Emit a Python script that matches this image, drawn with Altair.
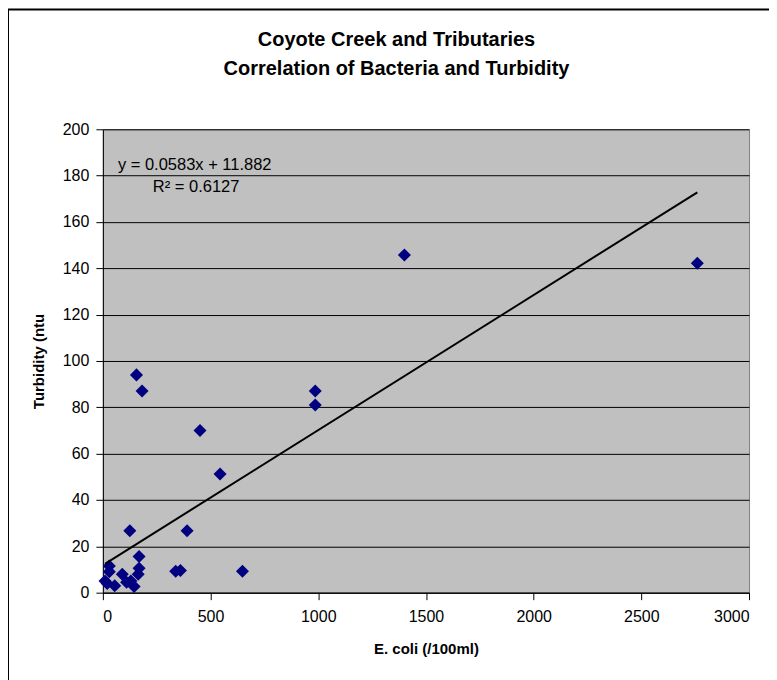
import altair as alt
import pandas as pd

# E. coli (/100ml) and turbidity (ntu) readings
ecoli = [10, 20, 30, 30, 55, 90, 110, 130, 145, 164, 168, 168, 125, 156, 182,
         338, 360, 391, 451, 544, 648, 986, 986, 1400, 2760]
turbidity = [5, 4, 11.5, 9, 3, 8, 4.5, 5, 2.7, 8, 10.5, 15.6, 26.7, 94, 87,
             9.2, 9.6, 26.7, 70, 51.2, 9.2, 87, 81, 145.7, 142.2]

# Trendline as stated in the chart
slope = 0.0583
intercept = 11.882
r_squared = 0.6127

x_ticks = [0, 500, 1000, 1500, 2000, 2500, 3000]
y_ticks = [0, 20, 40, 60, 80, 100, 120, 140, 160, 180, 200]
title_lines = ["Coyote Creek and Tributaries", "Correlation of Bacteria and Turbidity"]

df = pd.DataFrame({"ecoli": ecoli, "turbidity": turbidity})
tx = [min(ecoli), max(ecoli)]
trend = pd.DataFrame({"ecoli": tx, "turbidity": [slope * v + intercept for v in tx]})

W, H = 647, 464
FONT = "Liberation Sans"

xscale = alt.Scale(domain=[0, 3000], nice=False, zero=False)
yscale = alt.Scale(domain=[0, 200], nice=False, zero=False)

xaxis = alt.Axis(values=x_ticks, format="d", grid=False, title="E. coli (/100ml)",
                 labelFontSize=16, labelPadding=9, titleFontSize=15,
                 titleFontWeight="bold", titlePadding=17, tickSize=7,
                 domainColor="black", tickColor="black", labelColor="black",
                 titleColor="black", labelFont=FONT, titleFont=FONT)
yaxis = alt.Axis(values=y_ticks, format="d", grid=True, gridColor="#000000", gridWidth=1,
                 title="Turbidity (ntu", labelFontSize=16, labelPadding=7,
                 titleFontSize=15, titleFontWeight="bold", titlePadding=16,
                 tickSize=7, domainColor="black", tickColor="black",
                 labelColor="black", titleColor="black", labelFont=FONT,
                 titleFont=FONT)

points = alt.Chart(df).mark_point(
    shape="diamond", filled=True, size=170, color="#000080", opacity=1
).encode(
    x=alt.X("ecoli:Q", scale=xscale, axis=xaxis),
    y=alt.Y("turbidity:Q", scale=yscale, axis=yaxis),
)

line = alt.Chart(trend).mark_line(color="black", strokeWidth=2).encode(
    x="ecoli:Q", y="turbidity:Q"
)

eq = pd.DataFrame({
    "label": [f"y = {slope}x + {intercept}", f"R² = {r_squared}"],
    "lx": [70, 232],
    "ly": [184.5, 175],
})
eq_text = alt.Chart(eq).mark_text(
    align="left", baseline="middle", fontSize=16.5, font=FONT, color="black"
).encode(x="lx:Q", y="ly:Q", text="label:N")

title1 = alt.Chart(pd.DataFrame({"t": [title_lines[0]]})).mark_text(
    align="center", baseline="middle", fontSize=20, font=FONT,
    fontWeight="bold", color="black"
).encode(x=alt.value(294), y=alt.value(-89), text="t:N")
title2 = alt.Chart(pd.DataFrame({"t": [title_lines[1]]})).mark_text(
    align="center", baseline="middle", fontSize=20, font=FONT,
    fontWeight="bold", color="black"
).encode(x=alt.value(294), y=alt.value(-60), text="t:N")

frame = alt.Chart(pd.DataFrame({"k": [0]})).mark_rect(
    fill=None, stroke="black", strokeWidth=2
).encode(
    x=alt.value(-95), x2=alt.value(668), y=alt.value(-120), y2=alt.value(H + 200)
)

chart = alt.layer(frame, points, line, eq_text, title1, title2).properties(
    width=W, height=H,
    autosize=alt.AutoSizeParams(type="none"),
    padding={"left": 95, "top": 121, "right": 20, "bottom": 87},
).configure(
    background="white",
    view=alt.ViewConfig(fill="#C0C0C0", stroke="#808080", strokeWidth=1),
)

chart.save("out.html", embed_options={"renderer": "svg", "actions": False})
